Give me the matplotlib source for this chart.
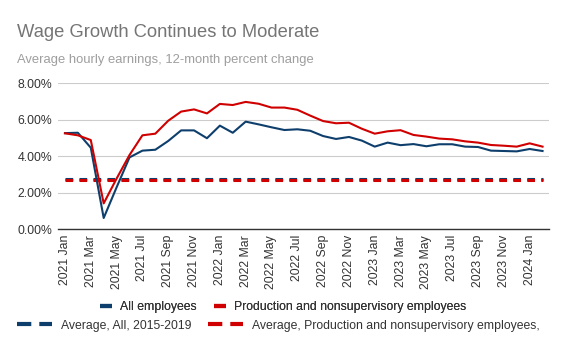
import numpy as np
import matplotlib
matplotlib.use("Agg")
import matplotlib.pyplot as plt
from matplotlib.lines import Line2D
import pandas as pd

plt.rcParams['font.family'] = ['Liberation Sans', 'DejaVu Sans']

# monthly, 2021 Jan .. 2024 Feb
months = [d.strftime('%Y %b') for d in pd.date_range('2021-01-01', '2024-02-01', freq='MS')]

all_emp = [5.27, 5.29, 4.47, 0.62, 2.30, 3.94, 4.31, 4.36, 4.84, 5.42,
           5.42, 4.99, 5.68, 5.29, 5.90, 5.75, 5.59, 5.44, 5.48, 5.40,
           5.11, 4.95, 5.06, 4.86, 4.53, 4.75, 4.61, 4.67, 4.55, 4.66,
           4.66, 4.53, 4.51, 4.31, 4.29, 4.27, 4.40, 4.29]
prod_emp = [5.26, 5.15, 4.89, 1.42, 2.78, 4.07, 5.15, 5.24, 5.95, 6.45,
            6.57, 6.35, 6.87, 6.81, 6.98, 6.88, 6.67, 6.67, 6.55, 6.23,
            5.93, 5.81, 5.84, 5.51, 5.24, 5.37, 5.43, 5.17, 5.08, 4.97,
            4.93, 4.82, 4.75, 4.62, 4.58, 4.53, 4.71, 4.53]
avg_all = 2.74
avg_prod = 2.68

blue = '#0e3f6c'
red = '#d00000'

fig = plt.figure(figsize=(5.67, 3.5), dpi=100)
ax = fig.add_axes([58/567, 1-229.3/350, (549-58)/567, (229.3-83.3)/350])

x = np.arange(len(months))
ax.plot(x, all_emp, color=blue, lw=1.5, solid_joinstyle='round', zorder=3)
ax.plot(x, prod_emp, color=red, lw=1.5, solid_joinstyle='round', zorder=3)
ax.plot(x, [avg_all]*len(x), color=blue, lw=2.2, dashes=(2.52, 2.06), dash_capstyle='butt', zorder=2)
ax.plot(x, [avg_prod]*len(x), color=red, lw=2.2, dashes=(2.52, 2.06), dash_capstyle='butt', zorder=2)

ax.set_xlim(-0.54, len(x) - 1 + 0.5)
ax.set_ylim(0, 8)
ax.set_yticks([0, 2, 4, 6, 8])
ax.set_yticklabels(['%.2f%%' % v for v in [0, 2, 4, 6, 8]])
ax.set_xticks(x[::2])
ax.set_xticklabels(months[::2], rotation=90, va='top', ha='center')
ax.tick_params(axis='both', length=0, labelsize=8.8, colors='#333333')
ax.tick_params(axis='x', pad=4.1)
ax.tick_params(axis='y', pad=4.3)
ax.grid(axis='y', color='#cccccc', lw=0.8)
ax.set_axisbelow(True)
for s in ['left', 'right', 'top']:
    ax.spines[s].set_visible(False)
ax.spines['bottom'].set_color('#333333')
ax.spines['bottom'].set_linewidth(1.0)
ax.spines['bottom'].set_zorder(4)

fig.text(17/567, 1-36.7/350, 'Wage Growth Continues to Moderate', fontsize=13.2,
         color='#757575', va='baseline', ha='left')
fig.text(17/567, 1-63.3/350, 'Average hourly earnings, 12-month percent change',
         fontsize=9.4, color='#9e9e9e', va='baseline', ha='left')

# legend row 1: solid series
h1 = [Line2D([], [], color=blue, lw=3, solid_capstyle='butt'),
      Line2D([], [], color=red, lw=3, solid_capstyle='butt')]
leg1 = fig.legend(h1, ['All employees', 'Production and nonsupervisory employees'],
                  loc='center left', bbox_to_anchor=(100/567, 1-307/350), ncol=2,
                  frameon=False, fontsize=8.8, handlelength=0.98, handletextpad=0.66,
                  columnspacing=1.39, borderpad=0, borderaxespad=0, labelcolor='#333333')

# legend row 2: averages
h2 = [Line2D([], [], color=blue, lw=3, dashes=(3.43, 1.92), dash_capstyle='butt'),
      Line2D([], [], color=red, lw=3, dashes=(3.43, 1.92), dash_capstyle='butt')]
leg2 = fig.legend(h2, ['Average, All, 2015-2019', 'Average, Production and nonsupervisory employees,'],
                  loc='center left', bbox_to_anchor=(16.7/567, 1-325.5/350), ncol=2,
                  frameon=False, fontsize=8.8, handlelength=2.9, handletextpad=0.74,
                  columnspacing=1.31, borderpad=0, borderaxespad=0, labelcolor='#333333')
fig.add_artist(leg1)

fig.savefig('out.png', dpi=100)
